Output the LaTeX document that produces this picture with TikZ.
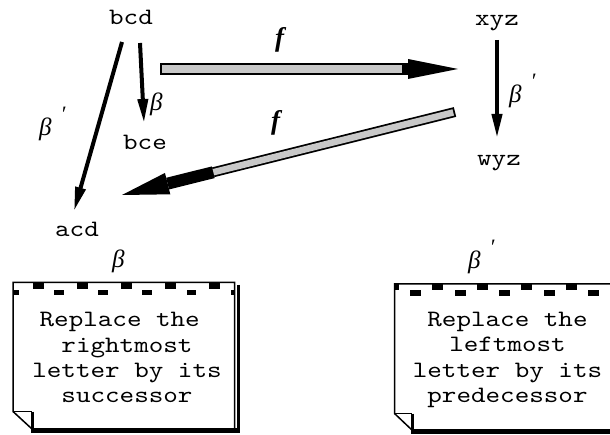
\documentclass[tikz,border=0pt]{standalone}
\usepackage{fontspec}
\setmonofont{lmmono10-regular.otf}[FakeStretch=1.18]
\newfontfamily\fserif{Liberation Serif}
\usetikzlibrary{arrows.meta,calc}
\definecolor{bargray}{RGB}{200,200,200}
\newcommand{\betaprime}{β\hspace{9pt}\raisebox{14pt}{\fontsize{22}{22}\selectfont ′}}
\begin{document}
\begin{tikzpicture}[x=1pt,y=-1pt,
  lbl/.style={font=\ttfamily\fontsize{23.5}{23.5}\selectfont, inner sep=0pt, anchor=base},
  greek/.style={font=\fserif\itshape\fontsize{25}{25}\selectfont, inner sep=0pt, anchor=base west},
  flbl/.style={font=\fserif\bfseries\itshape\fontsize{27}{27}\selectfont, inner sep=0pt, anchor=base},
  thinarrow/.style={line width=4pt, -{Triangle[length=24pt,width=10pt]}},
  notetext/.style={font=\ttfamily\fontsize{23.5}{25.2}\selectfont, inner sep=0pt, align=center},
  noteline/.style={line width=1.5pt, line join=miter}]
\useasboundingbox (0,0) rectangle (610,435);

% word nodes
\node[lbl] (bcd) at (131,25) {bcd};
\node[lbl] (bce) at (145,150) {bce};
\node[lbl] (acd) at (77,237) {acd};
\node[lbl] (xyz) at (497,25.5) {xyz};
\node[lbl] (wyz) at (499,166) {wyz};

% thin arrows
\draw[thinarrow] ($(bcd.base)+(9,18)$) -- ($(bce.base)+(-1,-27)$);
\draw[thinarrow] ($(bcd.base)+(-9,17)$) -- ($(acd.base)+(-3,-26)$);
\draw[thinarrow] ($(xyz.base)+(0,14.5)$) -- ($(wyz.base)+(-2,-28)$);

% labels
\node[greek] (b1) at (150,111) {β};
\node[greek] (b2) at (39,136) {\betaprime};
\node[greek] (b3) at (509,103) {\betaprime};
\node[greek] (b4) at (112,268) {β};
\node[greek] (b5) at (468,269) {\betaprime};
\node[flbl] (f1) at (279.5,47) {f};
\node[flbl] (f2) at (275.5,130) {f};

% top f arrow
\coordinate (f1s) at (160,69);
\coordinate (f1h) at (408,69);
\coordinate (f1t) at (458,69);
\draw[line width=12pt] (f1s) -- (f1h);
\draw[bargray, line width=8pt] ($(f1s)+(2,0)$) -- ($(f1h)+(-6.3,0)$);
\fill ($(f1h)+(0,-10)$) -- (f1t) -- ($(f1h)+(0,10)$) -- cycle;

% bottom f arrow
\coordinate (f2e) at (455,112);
\coordinate (f2t) at (122,195);
\coordinate (f2h) at ($(f2t)!47pt!(f2e)$);
\coordinate (f2s) at ($(f2t)!94pt!(f2e)$);
\draw[line width=10pt] (f2s) -- (f2e);
\draw[bargray, line width=6.5pt] (f2s) -- ($(f2e)!1.8pt!(f2t)$);
\draw[line width=12pt] (f2h) -- (f2s);
\fill (f2t) -- ($(f2h)!11pt!90:(f2t)$) -- ($(f2h)!11pt!-90:(f2t)$) -- cycle;

% left note
\draw[noteline] (13,282.5) -- (234.5,282.5) -- (234.5,429) -- (32,429) -- (13,411.5) -- cycle;
\draw[line width=1.5pt] (13,411.5) -- (32,411.5);
\draw[line width=3pt] (32,411.5) -- (32,432);
\draw[line width=5pt] (30.5,430.5) -- (240,430.5);
\draw[line width=3pt] (238.5,285) -- (238.5,433);
\begin{scope}
  \clip (13,282) rectangle (234.5,300);
  \foreach \k in {0,...,4} \fill (33+44*\k,282.5) rectangle ++(10.5,6.5);
  \foreach \k in {0,...,5} \fill (9.8+44.2*\k,290) rectangle ++(9.5,5);
\end{scope}
\node[notetext] (lnote) at (127,357.5) {Replace the\phantom{x}\\rightmost\\letter by its\\successor};

% right note
\draw[noteline] (620,284) -- (394.5,284) -- (394.5,413.5) -- (413,431) -- (620,431);
\draw[line width=1.5pt] (394.5,413.5) -- (412,413.5);
\draw[line width=3pt] (412,413.5) -- (412,432);
\draw[line width=5pt] (410.5,431) -- (620,431);
\begin{scope}
  \clip (394.5,283) rectangle (620,300);
  \foreach \k in {0,...,5} \fill (387.5+44.5*\k,283.5) rectangle ++(11,6.5);
  \foreach \k in {0,...,5} \fill (410+44.5*\k,290.5) rectangle ++(11,6);
\end{scope}
\node[notetext] (rnote) at (507.5,360) {Replace the\\leftmost\\letter by its\\predecessor};
\end{tikzpicture}
\end{document}
